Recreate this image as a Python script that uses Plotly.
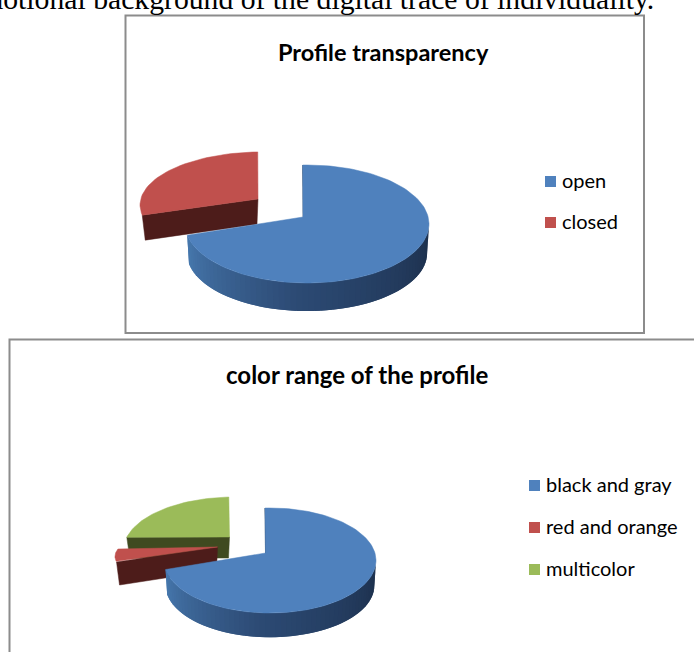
import math
import plotly.graph_objects as go

# Data
transparency_labels = ["open", "closed"]
transparency_values = [72.5, 27.5]
range_labels = ["black and gray", "red and orange", "multicolor"]
range_values = [73, 6.5, 20.5]
top_colors = {"blue": "#4f81bd", "red": "#c0504d", "green": "#9bbb59"}
wall_colors = {"red": "#4d1c1a", "green": "#3f4a20"}
caption = "emotional background of the digital trace of individuality."
W, H = 694, 652
FONT = "Lato"


def mix(a, b, t):
    return "#%02x%02x%02x" % tuple(round(a[i] + (b[i] - a[i]) * t) for i in range(3))


def arc(p, a0, a1, n=60, oy=0, dx=0, dy=0, sx=1.0, sy=1.0):
    out = []
    for i in range(n + 1):
        t = math.radians(a0 + (a1 - a0) * i / n)
        out.append((p["cx"] + dx + p["rx"] * sx * math.sin(t), p["cy"] + dy + oy - p["ry"] * sy * math.cos(t)))
    return out


def poly(fig, pts, color, lw=0.5):
    fig.add_trace(go.Scatter(x=[q[0] for q in pts] + [pts[0][0]], y=[q[1] for q in pts] + [pts[0][1]],
                             mode="lines", fill="toself", fillcolor=color,
                             line=dict(color=color, width=lw), hoverinfo="skip", showlegend=False))


def pie(fig, values, colors, p, offsets):
    total = sum(values)
    edges = [p["rot"]]
    for v in values:
        edges.append(edges[-1] + v / total * 360)
    for k in range(len(values) - 1, 0, -1):
        o = offsets[k]
        a0, a1 = edges[k], edges[k + 1]
        apex = (p["ax"] + o["dx"], p["ay"] + o["ady"])
        kw = dict(dx=o["dx"], dy=o["dy"], sx=o["sx"], sy=o["sy"])
        ref = arc(p, a0, a0, 1, **kw)[0]
        d = o["d"]
        poly(fig, [apex, ref, (ref[0] + 3, ref[1] + d), (apex[0] - 1, apex[1] + d)], wall_colors[colors[k]])
        poly(fig, [apex] + arc(p, a0, a1, 40, **kw), top_colors[colors[k]])
    a_end = edges[1]
    left, mid, right = (72, 122, 176), (44, 74, 116), (28, 47, 75)
    n = 60
    step = (a_end - 88) / n
    for i in range(n - 1, -1, -1):
        a0 = 88 + step * i
        a1 = min(a_end, a0 + step * 2)
        t = (i + 0.5) / n
        c = mix(right, mid, t / 0.55) if t < 0.55 else mix(mid, left, (t - 0.55) / 0.45)
        poly(fig, arc(p, a0, a1, 3) + arc(p, a1, a0, 3, p["d"], sx=0.985, sy=0.985), c, 0)
    poly(fig, [(p["ax"], p["ay"]), (p["ax"] + 1.5, p["ay"]), arc(p, edges[0], edges[0], 1)[0]], "#1d3048")
    poly(fig, [(p["ax"], p["ay"])] + arc(p, edges[0], a_end, 120), top_colors[colors[0]])


fig = go.Figure()
pie(fig, transparency_values, ["blue", "red"],
    dict(cx=307, cy=224, rx=122, ry=59, ax=303, ay=217, d=29, rot=-2),
    {1: dict(dx=-45, dy=-19, ady=-18, sx=1.0, sy=0.9, d=25)})
pie(fig, range_values, ["blue", "red", "green"],
    dict(cx=270, cy=560.5, rx=106, ry=52.5, ax=265.5, ay=553, d=25, rot=-2.7),
    {1: dict(dx=-48, dy=-4, ady=-6, sx=1.01, sy=0.61, d=23),
     2: dict(dx=-36, dy=-11, ady=-16, sx=1.04, sy=1.0, d=21)})

shapes = [
    dict(type="rect", x0=125.5, x1=644, y0=15.5, y1=333, line=dict(color="#8c8c8c", width=2), layer="below"),
    dict(type="rect", x0=9.5, x1=720, y0=339.5, y1=680, line=dict(color="#8c8c8c", width=2), layer="below"),
]
ann = []


def text(s, x, y, size, anchor="left", bold=False, family=FONT):
    ann.append(dict(text=f"<b>{s}</b>" if bold else s, x=x, y=y, xref="x", yref="y", xanchor=anchor,
                    yanchor="middle", showarrow=False, borderpad=0,
                    font=dict(family=family, size=size, color="#000000")))


def legend(labels, colors, x, ys):
    for lab, col, y in zip(labels, colors, ys):
        shapes.append(dict(type="rect", x0=x, x1=x + 11, y0=y - 5.5, y1=y + 5.5,
                           fillcolor=top_colors[col], line=dict(width=0)))
        text(lab, x + 16, y - 2, 20)


legend(transparency_labels, ["blue", "red"], 545, [181.5, 222.5])
legend(range_labels, ["blue", "red", "green"], 529, [485.5, 527.5, 569.5])
text("Profile transparency", 383.5, 52, 23.5, "center", True)
text("color range of the profile", 357, 374.5, 24, "center", True)
ann.append(dict(text=caption, x=655, y=1 + 1.0 / H, xref="x", yref="paper", xanchor="right", yanchor="middle",
                showarrow=False, borderpad=0, font=dict(family="Liberation Serif", size=29.7, color="#000000")))

fig.update_layout(
    width=W, height=H, margin=dict(l=0, r=0, t=0, b=0), showlegend=False,
    paper_bgcolor="white", plot_bgcolor="white", shapes=shapes, annotations=ann,
    xaxis=dict(range=[0, W], visible=False, fixedrange=True),
    yaxis=dict(range=[H, 0], visible=False, fixedrange=True),
)
fig.write_html("out.html", config={"displayModeBar": False},
               post_script="document.body.style.margin='0';document.documentElement.style.overflow='hidden';")
